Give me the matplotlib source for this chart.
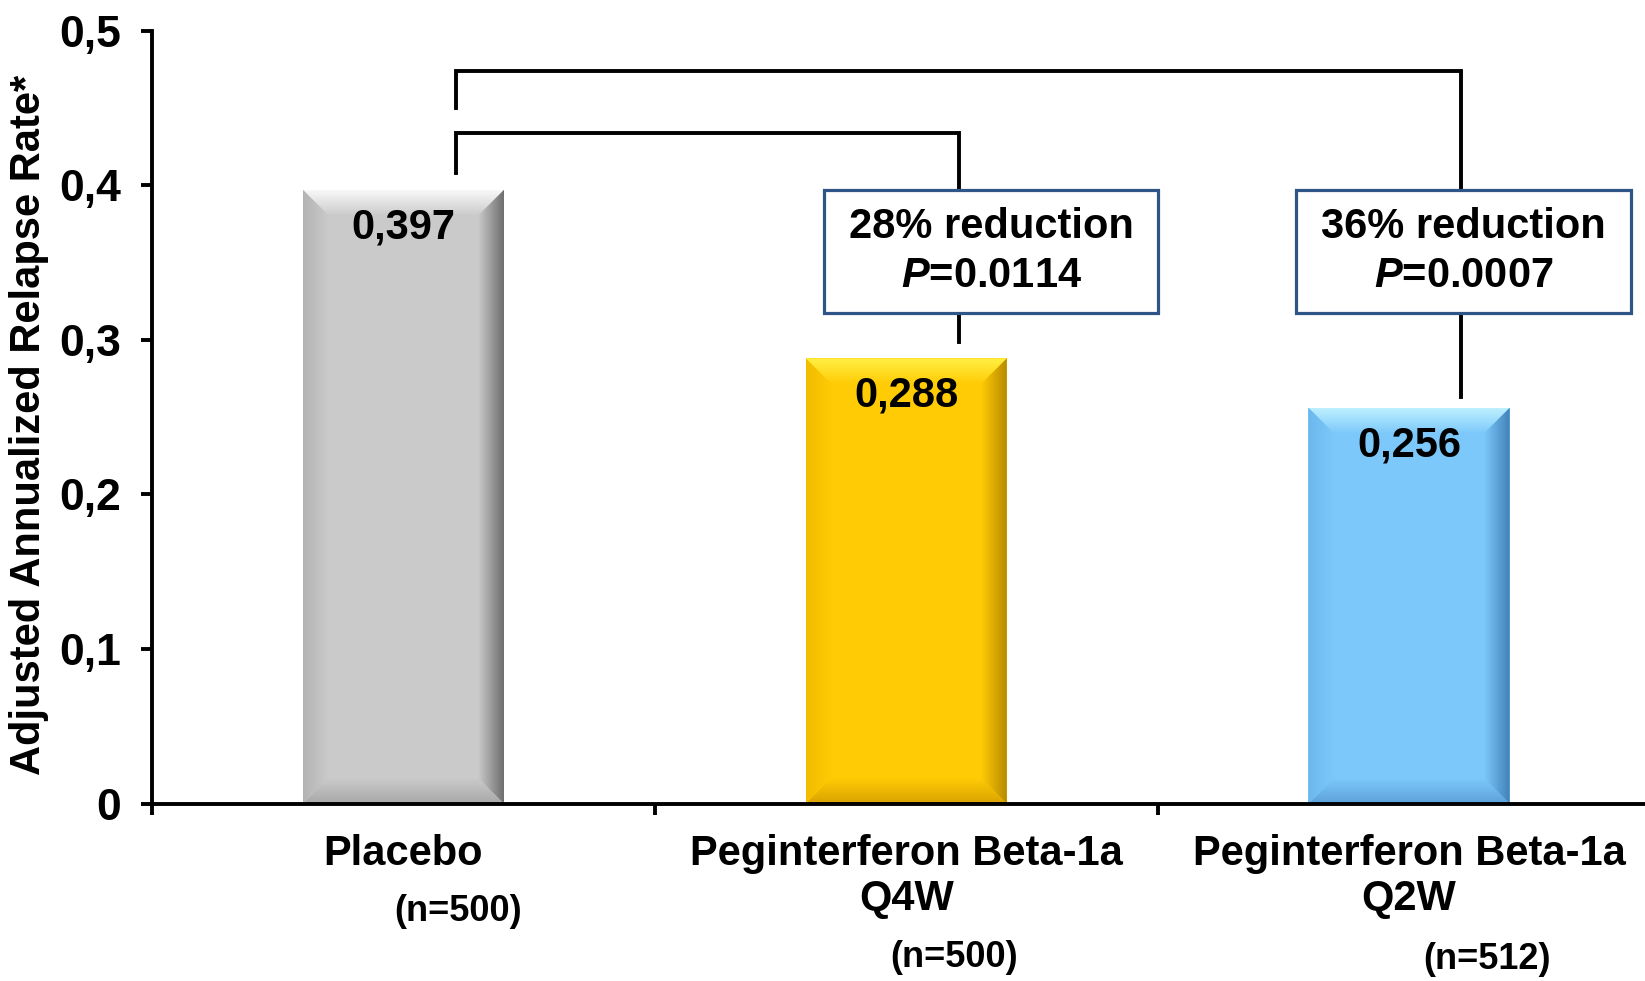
import numpy as np
import matplotlib
matplotlib.use("Agg")
import matplotlib.pyplot as plt
from matplotlib.patches import Polygon, Rectangle
from matplotlib.colors import LinearSegmentedColormap

plt.rcParams['font.family'] = ['Liberation Sans', 'DejaVu Sans']
plt.rcParams['font.weight'] = 'bold'
plt.rcParams['mathtext.fontset'] = 'custom'
plt.rcParams['mathtext.it'] = 'Liberation Sans:bold:italic'
plt.rcParams['mathtext.rm'] = 'Liberation Sans:bold'

# data
groups = ['Placebo', 'Peginterferon Beta-1a\nQ4W', 'Peginterferon Beta-1a\nQ2W']
n_labels = ['(n=500)', '(n=500)', '(n=512)']
rates = [0.397, 0.288, 0.256]
value_labels = ['0,397', '0,288', '0,256']
reductions = ['28% reduction', '36% reduction']
p_values = ['0.0114', '0.0007']
yticks = [0, 0.1, 0.2, 0.3, 0.4, 0.5]
ytick_labels = ['0', '0,1', '0,2', '0,3', '0,4', '0,5']

# base, top highlight, left edge, bottom edge, right edge
bar_styles = [
    ('#CACACA', '#F8F8F8', '#B4B4B4', '#A8A8A8', '#6E6E6E'),
    ('#FFCB05', '#FFF045', '#F2BC00', '#D9A200', '#B88A00'),
    ('#7CC8FA', '#BDF0FF', '#6CB8EE', '#5DA2DA', '#3F7FB5'),
]

W, H = 16.45, 9.81
fig = plt.figure(figsize=(W, H), dpi=100)
ax = fig.add_axes([0.0924, 0.1808, 0.917, 0.788])
ax.set_xlim(-0.5, 2.5)
ax.set_ylim(0, 0.5)

x = np.arange(len(rates))
bar_w = 0.40
ax.bar(x, rates, width=bar_w, color=[s[0] for s in bar_styles], zorder=2)

# pixel -> data scale for the bevel edges
px_x = 0.917 * W * 100 / 3.0
px_y = 0.788 * H * 100 / 0.5
bev = 26
bx, by = bev / px_x, bev / px_y


def grad_fill(poly_pts, c_from, c_to, horizontal, zorder=3):
    pts = np.array(poly_pts)
    x0, x1 = pts[:, 0].min(), pts[:, 0].max()
    y0, y1 = pts[:, 1].min(), pts[:, 1].max()
    cmap = LinearSegmentedColormap.from_list('g', [c_from, c_to])
    g = np.linspace(0, 1, 64)
    img = g[None, :] if horizontal else g[:, None]
    im = ax.imshow(img, cmap=cmap, extent=(x0, x1, y0, y1), origin='lower',
                   aspect='auto', interpolation='bicubic', zorder=zorder)
    poly = Polygon(pts, closed=True, facecolor='none', edgecolor='none')
    ax.add_patch(poly)
    im.set_clip_path(poly)


for xi, h, st in zip(x, rates, bar_styles):
    base, top, left, bottom, right = st
    l, r = xi - bar_w / 2, xi + bar_w / 2
    # top bevel: light at the edge fading to the face
    grad_fill([(l, h), (r, h), (r - bx, h - by), (l + bx, h - by)], base, top, False)
    # bottom bevel
    grad_fill([(l, 0), (r, 0), (r - bx, by), (l + bx, by)], bottom, base, False)
    # left bevel
    grad_fill([(l, 0), (l, h), (l + bx, h - by), (l + bx, by)], left, base, True)
    # right bevel: darker toward the outer edge
    grad_fill([(r, 0), (r, h), (r - bx, h - by), (r - bx, by)], base, right, True)

ax.set_xlim(-0.5, 2.5)
ax.set_ylim(0, 0.5)

for xi, h, lab in zip(x, rates, value_labels):
    ax.annotate(lab, (xi, h), xytext=(0, -27), textcoords='offset points',
                ha='center', va='center', fontsize=30, fontweight='bold', zorder=5)

# comparison brackets
lw = 2.8
leg = 0.104
ax.plot([leg, leg, 1 + leg, 1 + leg], [0.408, 0.4335, 0.4335, rates[1] + 0.0105],
        color='black', lw=lw, zorder=4, solid_joinstyle='miter')
ax.plot([leg, leg, 2 + leg, 2 + leg], [0.45, 0.474, 0.474, rates[2] + 0.007],
        color='black', lw=lw, zorder=4, solid_joinstyle='miter')

# result boxes
box_cx = [1.169, 2.108]
box_w, box_y0, box_y1 = 0.665, 0.3175, 0.397
for cx, red, p in zip(box_cx, reductions, p_values):
    ax.add_patch(Rectangle((cx - box_w / 2, box_y0), box_w, box_y1 - box_y0,
                           facecolor='white', edgecolor='#2F5486', lw=2.3, zorder=6))
    ax.text(cx, 0.373, red, ha='center', va='center', fontsize=30,
            fontweight='bold', zorder=7)
    ax.text(cx, 0.341, r'$\mathit{P}$=' + p, ha='center', va='center',
            fontsize=30, fontweight='bold', zorder=7)

# axes styling
for s in ['top', 'right']:
    ax.spines[s].set_visible(False)
ax.spines['left'].set_linewidth(2.8)
ax.spines['bottom'].set_linewidth(2.8)
ax.spines['bottom'].set_zorder(8)

ax.set_yticks(yticks)
ax.set_yticklabels(ytick_labels, fontsize=32, fontweight='bold')
ax.tick_params(axis='y', direction='out', length=8, width=2.8, pad=14)

ax.set_xticks([-0.5, 0.5, 1.5, 2.5])
ax.set_xticklabels([])
ax.tick_params(axis='x', which='major', direction='out', length=8, width=2.8)
ax.set_xticks(x, minor=True)
ax.set_xticklabels(groups, minor=True, fontsize=30, fontweight='bold',
                   linespacing=1.15)
ax.tick_params(axis='x', which='minor', length=0, pad=22)

n_offsets = [(0.109, -78), (1.095, -111), (2.155, -112)]
for (nx, dy), lab in zip(n_offsets, n_labels):
    ax.annotate(lab, (nx, 0), xytext=(0, dy), textcoords='offset points',
                ha='center', va='center', fontsize=26, fontweight='bold',
                annotation_clip=False)

ax.set_ylabel('Adjusted Annualized Relapse Rate*', fontsize=30, fontweight='bold')
ax.yaxis.set_label_coords(-0.068, 0.49)

fig.savefig('out.png', dpi=100)
